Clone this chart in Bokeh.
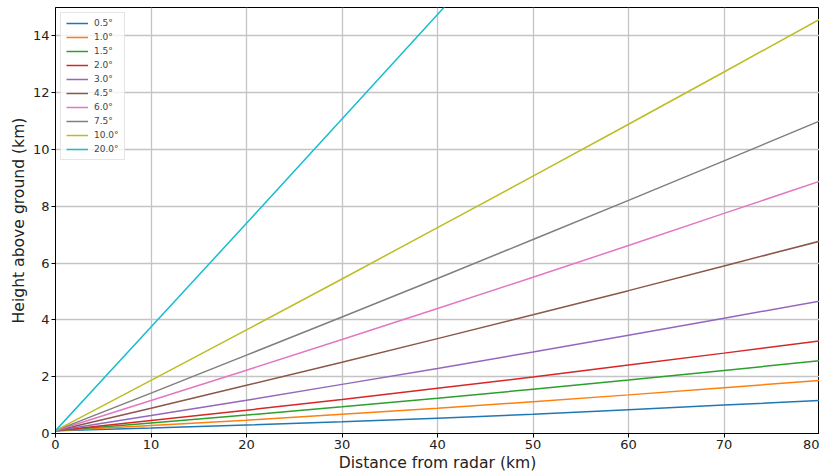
from bokeh.plotting import figure
from bokeh.models import Range1d, Legend, LegendItem, FixedTicker
from bokeh.embed import file_html
from bokeh.resources import INLINE

distance_km = [0, 10, 20, 30, 40, 50, 60, 70, 80]
angles = ["0.5°", "1.0°", "1.5°", "2.0°", "3.0°", "4.5°", "6.0°", "7.5°", "10.0°", "20.0°"]
h_05 = [0.10, 0.19, 0.30, 0.41, 0.54, 0.68, 0.84, 1.00, 1.16]
h_10 = [0.10, 0.28, 0.47, 0.68, 0.89, 1.12, 1.36, 1.61, 1.87]
h_15 = [0.10, 0.37, 0.65, 0.94, 1.24, 1.56, 1.88, 2.22, 2.56]
h_20 = [0.10, 0.46, 0.82, 1.20, 1.59, 1.99, 2.41, 2.83, 3.26]
h_30 = [0.10, 0.63, 1.17, 1.73, 2.29, 2.87, 3.46, 4.06, 4.66]
h_45 = [0.10, 0.89, 1.70, 2.51, 3.34, 4.18, 5.03, 5.90, 6.77]
h_60 = [0.10, 1.16, 2.23, 3.31, 4.40, 5.50, 6.62, 7.75, 8.88]
h_75 = [0.10, 1.42, 2.76, 4.10, 5.46, 6.83, 8.21, 9.60, 11.00]
h_100 = [0.10, 1.87, 3.65, 5.44, 7.25, 9.06, 10.89, 12.73, 14.58]
h_200 = [0.10, 3.75, 7.40, 11.07, 14.75, 18.45, 22.18, 25.93, 29.71]
heights = [h_05, h_10, h_15, h_20, h_30, h_45, h_60, h_75, h_100, h_200]
colors = ["#1f77b4", "#ff7f0e", "#2ca02c", "#d62728", "#9467bd",
          "#8c564b", "#e377c2", "#7f7f7f", "#bcbd22", "#17becf"]

p = figure(width=819, height=474, output_backend="svg", toolbar_location=None,
           x_range=Range1d(0, 80), y_range=Range1d(0, 15),
           min_border_left=55, min_border_right=0, min_border_top=7, min_border_bottom=0)

items = []
for lab, h, c in zip(angles, heights, colors):
    r = p.line(distance_km, h, line_color=c, line_width=1.5)
    items.append(LegendItem(label=lab, renderers=[r]))

legend = Legend(items=items, location="top_left")
legend.label_text_font = "DejaVu Sans"
legend.label_text_font_size = "9px"
legend.label_height = 10
legend.glyph_height = 10
legend.glyph_width = 22
legend.spacing = 4
legend.padding = 5
legend.margin = 5
legend.label_standoff = 6
legend.border_line_color = "#cccccc"
legend.border_line_width = 1
legend.background_fill_alpha = 0.8
p.add_layout(legend)

p.xaxis.ticker = FixedTicker(ticks=[0, 10, 20, 30, 40, 50, 60, 70, 80])
p.yaxis.ticker = FixedTicker(ticks=[0, 2, 4, 6, 8, 10, 12, 14])
p.xaxis.axis_label = "Distance from radar (km)"
p.yaxis.axis_label = "Height above ground (km)"
for ax in (p.xaxis, p.yaxis):
    ax.axis_label_text_font = "DejaVu Sans"
    ax.axis_label_text_font_style = "normal"
    ax.axis_label_text_font_size = "15.6px"
    ax.major_label_text_font = "DejaVu Sans"
    ax.major_label_text_font_size = "13px"
    ax.major_label_text_color = "#222222"
    ax.axis_label_text_color = "#222222"
    ax.major_tick_in = 0
    ax.major_tick_out = 4
    ax.minor_tick_line_color = None
    ax.axis_line_color = "black"
    ax.major_tick_line_color = "black"
    ax.axis_label_standoff = 2
    ax.major_label_standoff = 2

p.grid.grid_line_color = "#c4c4c4"
p.grid.grid_line_width = 1.3
p.outline_line_color = "black"
p.outline_line_alpha = 1
p.outline_line_width = 1

open("out.html", "w").write(file_html(p, INLINE))
